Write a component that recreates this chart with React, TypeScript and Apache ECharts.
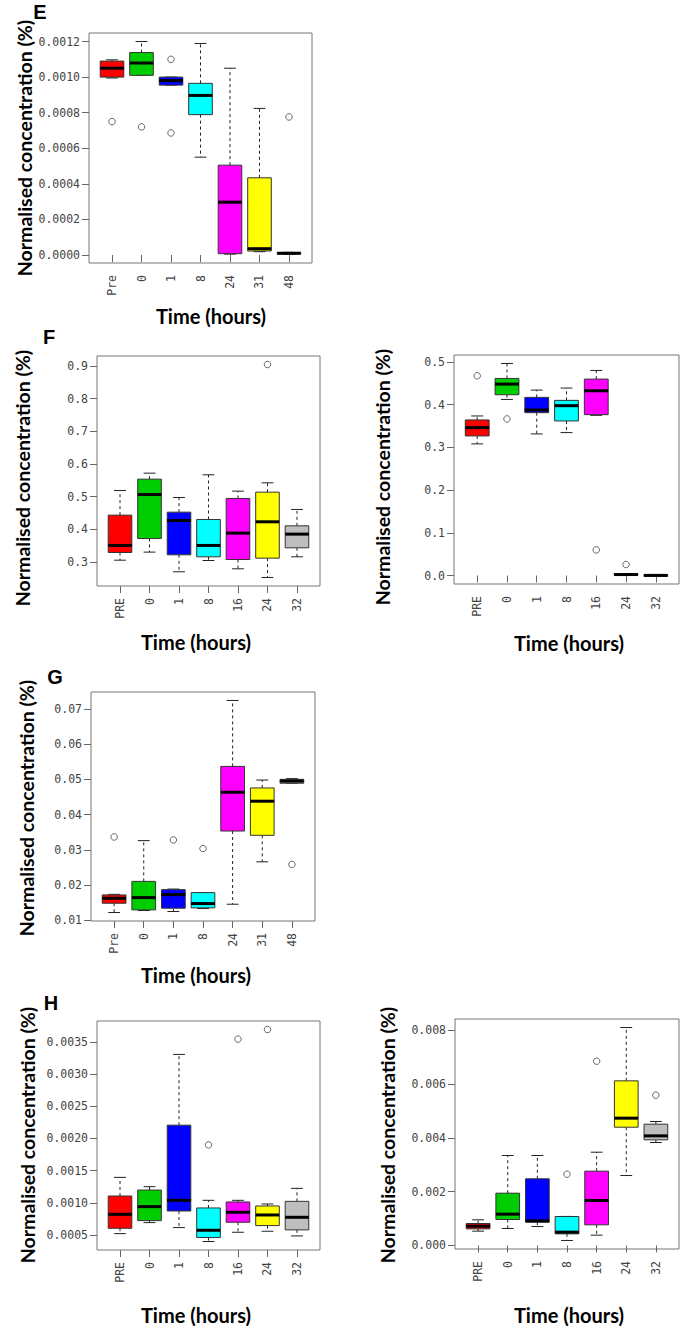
import React, { useEffect, useRef } from "react";
import * as echarts from "echarts";

// ---------- categories ----------
const catsA = ["Pre", "0", "1", "8", "24", "31", "48"];
const catsB = ["PRE", "0", "1", "8", "16", "24", "32"];
const boxColors = ["#ff0000", "#00cd00", "#0000ff", "#00ffff", "#ff00ff", "#ffff00", "#bebebe"];

// ---------- panel E: [min, q1, median, q3, max] ----------
const boxesE = [
  [0.000995, 0.001, 0.00105, 0.00109, 0.001097],
  [0.00101, 0.00101, 0.001079, 0.001138, 0.0012],
  [0.000955, 0.000955, 0.00098, 0.001, 0.001],
  [0.00055, 0.000789, 0.000897, 0.000965, 0.001189],
  [0.000005, 0.0000075, 0.000297, 0.000505, 0.00105],
  [0.0000187, 0.0000224, 0.0000355, 0.000434, 0.000824],
  [0.000003, 0.000006, 0.00001, 0.000013, 0.000015],
];
const outliersE = [[1, 0.00075], [2, 0.00072], [3, 0.0011], [3, 0.000686], [7, 0.000776]];
const ticksE = [0, 0.0002, 0.0004, 0.0006, 0.0008, 0.001, 0.0012];

// ---------- panel F (left) ----------
const boxesF1 = [
  [0.306, 0.3295, 0.351, 0.4436, 0.519],
  [0.3306, 0.3723, 0.5068, 0.5537, 0.572],
  [0.2705, 0.3224, 0.4273, 0.4528, 0.4976],
  [0.305, 0.3163, 0.351, 0.4304, 0.5669],
  [0.2796, 0.308, 0.3886, 0.4946, 0.517],
  [0.2531, 0.3122, 0.4233, 0.5139, 0.5424],
  [0.3163, 0.3438, 0.3856, 0.411, 0.461],
];
const outliersF1 = [[6, 0.904]];
const ticksF1 = [0.3, 0.4, 0.5, 0.6, 0.7, 0.8, 0.9];

// ---------- panel F (right) ----------
const boxesF2 = [
  [0.308, 0.3266, 0.346, 0.364, 0.3733],
  [0.412, 0.423, 0.4479, 0.4611, 0.4961],
  [0.3313, 0.381, 0.3873, 0.4168, 0.4339],
  [0.3344, 0.3616, 0.3974, 0.4098, 0.4386],
  [0.3748, 0.3764, 0.4323, 0.4596, 0.4798],
  [0.0005, 0.001, 0.0023, 0.004, 0.0045],
  [0, 0, 0.0003, 0.0008, 0.001],
];
const outliersF2 = [[1, 0.4673], [2, 0.3663], [5, 0.0599], [6, 0.0257]];
const ticksF2 = [0, 0.1, 0.2, 0.3, 0.4, 0.5];

// ---------- panel G ----------
const boxesG = [
  [0.01225, 0.01488, 0.01629, 0.01723, 0.0174],
  [0.01282, 0.013, 0.01648, 0.02108, 0.03263],
  [0.01254, 0.01347, 0.01732, 0.01873, 0.0189],
  [0.01338, 0.01357, 0.01479, 0.01789, 0.0179],
  [0.0146, 0.03535, 0.04634, 0.05366, 0.07235],
  [0.02662, 0.03413, 0.0438, 0.04756, 0.0498],
  [0.0489, 0.0489, 0.0495, 0.05, 0.0502],
];
const outliersG = [[1, 0.03366], [3, 0.03282], [4, 0.03038], [7, 0.02587]];
const ticksG = [0.01, 0.02, 0.03, 0.04, 0.05, 0.06, 0.07];

// ---------- panel H (left) ----------
const boxesH1 = [
  [0.00052, 0.000603, 0.00082, 0.001105, 0.001395],
  [0.000691, 0.000722, 0.00094, 0.001198, 0.00125],
  [0.000614, 0.000872, 0.001038, 0.002207, 0.003308],
  [0.000397, 0.000459, 0.000572, 0.000919, 0.001038],
  [0.000541, 0.000697, 0.000852, 0.001012, 0.001038],
  [0.000557, 0.000645, 0.00081, 0.00095, 0.000981],
  [0.000484, 0.000578, 0.000774, 0.001022, 0.001224],
];
const outliersH1 = [[4, 0.0019], [5, 0.003546], [6, 0.003696]];
const ticksH1 = [0.0005, 0.001, 0.0015, 0.002, 0.0025, 0.003, 0.0035];

// ---------- panel H (right) ----------
const boxesH2 = [
  [0.000533, 0.000619, 0.000718, 0.000817, 0.000954],
  [0.000632, 0.000966, 0.001164, 0.001944, 0.003344],
  [0.000706, 0.000867, 0.000916, 0.002477, 0.003344],
  [0.000186, 0.000433, 0.000495, 0.001077, 0.00108],
  [0.000384, 0.000768, 0.001672, 0.002762, 0.003467],
  [0.0026, 0.004396, 0.004731, 0.006118, 0.0081],
  [0.003827, 0.003926, 0.004074, 0.004508, 0.004607],
];
const outliersH2 = [[4, 0.00265], [5, 0.006848], [7, 0.005585]];
const ticksH2 = [0, 0.002, 0.004, 0.006, 0.008];

const yTitle = "Normalised concentration (%)";
const xTitle = "Time (hours)";

// ---------- layout (pixels) ----------
const panels = [
  { boxes: boxesE, outs: outliersE, cats: catsA, ticks: ticksE, dec: 4,
    frame: { left: 89, top: 33, width: 223, height: 230 },
    yT: [24, 148], xT: [211, 316], letter: { t: "E", x: 40, y: 12 } },
  { boxes: boxesF1, outs: outliersF1, cats: catsB, ticks: ticksF1, dec: 1,
    frame: { left: 97, top: 356, width: 223, height: 230 },
    yT: [22, 478], xT: [196, 642], letter: { t: "F", x: 49, y: 337 } },
  { boxes: boxesF2, outs: outliersF2, cats: catsB, ticks: ticksF2, dec: 1,
    frame: { left: 454, top: 355, width: 225, height: 229 },
    yT: [382, 477], xT: [569, 643], letter: null },
  { boxes: boxesG, outs: outliersG, cats: catsA, ticks: ticksG, dec: 2,
    frame: { left: 91, top: 692, width: 224, height: 229 },
    yT: [26, 808], xT: [196, 975], letter: { t: "G", x: 55, y: 677 } },
  { boxes: boxesH1, outs: outliersH1, cats: catsB, ticks: ticksH1, dec: 4,
    frame: { left: 97, top: 1021, width: 223, height: 229 },
    yT: [27, 1135], xT: [196, 1315], letter: { t: "H", x: 51, y: 1003 } },
  { boxes: boxesH2, outs: outliersH2, cats: catsB, ticks: ticksH2, dec: 3,
    frame: { left: 455, top: 1019, width: 224, height: 230 },
    yT: [387, 1135], xT: [569, 1315], letter: null },
];

function rLimits(boxes: number[][], outs: number[][]) {
  const vals: number[] = [];
  boxes.forEach((b) => vals.push(...b));
  outs.forEach((o) => vals.push(o[1]));
  const lo = Math.min(...vals);
  const hi = Math.max(...vals);
  const r = hi - lo;
  return [lo - 0.04 * r, hi + 0.04 * r];
}

const tickFont = '"DejaVu Sans Mono"';
const tickColor = "#444";
const positions = [1, 2, 3, 4, 5, 6, 7];

function buildOption() {
  const grid: any[] = [];
  const xAxis: any[] = [];
  const yAxis: any[] = [];
  const series: any[] = [];
  const graphic: any[] = [];

  panels.forEach((p, i) => {
    const [lo, hi] = rLimits(p.boxes, p.outs);
    grid.push({
      left: p.frame.left, top: p.frame.top, width: p.frame.width, height: p.frame.height,
      show: true, borderColor: "#777", borderWidth: 1, backgroundColor: "transparent",
      containLabel: false,
    });
    const cats = p.cats;
    xAxis.push({
      gridIndex: i, type: "value", min: 0.22, max: 7.78,
      splitLine: { show: false }, axisLine: { show: false },
      axisTick: { show: true, length: 7, customValues: positions, lineStyle: { color: "#666" } },
      axisLabel: {
        customValues: positions, rotate: 90, margin: 12,
        formatter: (v: number) => cats[Math.round(v) - 1] ?? "",
        fontFamily: tickFont, fontSize: 11.5, color: tickColor,
      },
    });
    const dec = p.dec;
    yAxis.push({
      gridIndex: i, type: "value", min: lo, max: hi,
      splitLine: { show: false }, axisLine: { show: false },
      axisTick: { show: true, length: 7, customValues: p.ticks, lineStyle: { color: "#666" } },
      axisLabel: {
        customValues: p.ticks, margin: 9,
        formatter: (v: number) => v.toFixed(dec),
        fontFamily: tickFont, fontSize: 11.5, color: tickColor,
      },
    });
    series.push({
      type: "custom", xAxisIndex: i, yAxisIndex: i, clip: false,
      encode: { x: 0, y: [1, 2, 3, 4, 5] },
      data: p.boxes.map((b, k) => [k + 1, ...b]),
      renderItem: (params: any, api: any) => {
        const x = api.value(0);
        const pts = [1, 2, 3, 4, 5].map((d) => api.coord([x, api.value(d)]));
        const [pMin, pQ1, pMed, pQ3, pMax] = pts;
        const cx = pMin[0];
        const half = api.size([0.8, 0])[0] / 2;
        const cap = half / 2;
        const color = boxColors[params.dataIndex];
        const wStyle = { stroke: "#222", lineWidth: 1, lineDash: [3, 3] };
        const cStyle = { stroke: "#222", lineWidth: 1 };
        return {
          type: "group",
          children: [
            { type: "line", shape: { x1: cx, y1: pQ3[1], x2: cx, y2: pMax[1] }, style: wStyle },
            { type: "line", shape: { x1: cx, y1: pQ1[1], x2: cx, y2: pMin[1] }, style: wStyle },
            { type: "line", shape: { x1: cx - cap, y1: pMax[1], x2: cx + cap, y2: pMax[1] }, style: cStyle },
            { type: "line", shape: { x1: cx - cap, y1: pMin[1], x2: cx + cap, y2: pMin[1] }, style: cStyle },
            {
              type: "rect",
              shape: { x: cx - half, y: pQ3[1], width: 2 * half, height: Math.max(pQ1[1] - pQ3[1], 1) },
              style: { fill: color, stroke: "#333", lineWidth: 1 },
            },
            { type: "line", shape: { x1: cx - half, y1: pMed[1], x2: cx + half, y2: pMed[1] }, style: { stroke: "#000", lineWidth: 3 } },
          ],
        };
      },
    });
    series.push({
      type: "scatter", xAxisIndex: i, yAxisIndex: i,
      symbol: "circle", symbolSize: 6.5,
      itemStyle: { color: "rgba(0,0,0,0)", borderColor: "#444", borderWidth: 1 },
      data: p.outs,
    });

    graphic.push({
      type: "text", x: p.yT[0], y: p.yT[1], rotation: Math.PI / 2,
      style: { text: yTitle, font: 'bold 19.5px Lato', fill: "#000", align: "center", verticalAlign: "middle", textAlign: "center", textVerticalAlign: "middle" },
    });
    graphic.push({
      type: "text", x: p.xT[0], y: p.xT[1],
      style: { text: xTitle, font: 'bold 20px Lato', fill: "#000", align: "center", verticalAlign: "middle", textAlign: "center", textVerticalAlign: "middle" },
    });
    if (p.letter) {
      graphic.push({
        type: "text", x: p.letter.x, y: p.letter.y,
        style: { text: p.letter.t, font: 'bold 20px "Liberation Sans"', fill: "#000", align: "center", verticalAlign: "middle", textAlign: "center", textVerticalAlign: "middle" },
      });
    }
  });

  return { animation: false, backgroundColor: "#ffffff", grid, xAxis, yAxis, series, graphic };
}

export default function App() {
  const ref = useRef<HTMLDivElement>(null);
  useEffect(() => {
    if (!ref.current) return;
    const chart = echarts.init(ref.current, undefined, { renderer: "svg" });
    chart.setOption(buildOption() as any);
    return () => chart.dispose();
  }, []);
  return (
    <div
      ref={ref}
      style={{ position: "absolute", left: 0, top: 0, width: 682, height: 1328, background: "#fff" }}
    />
  );
}
